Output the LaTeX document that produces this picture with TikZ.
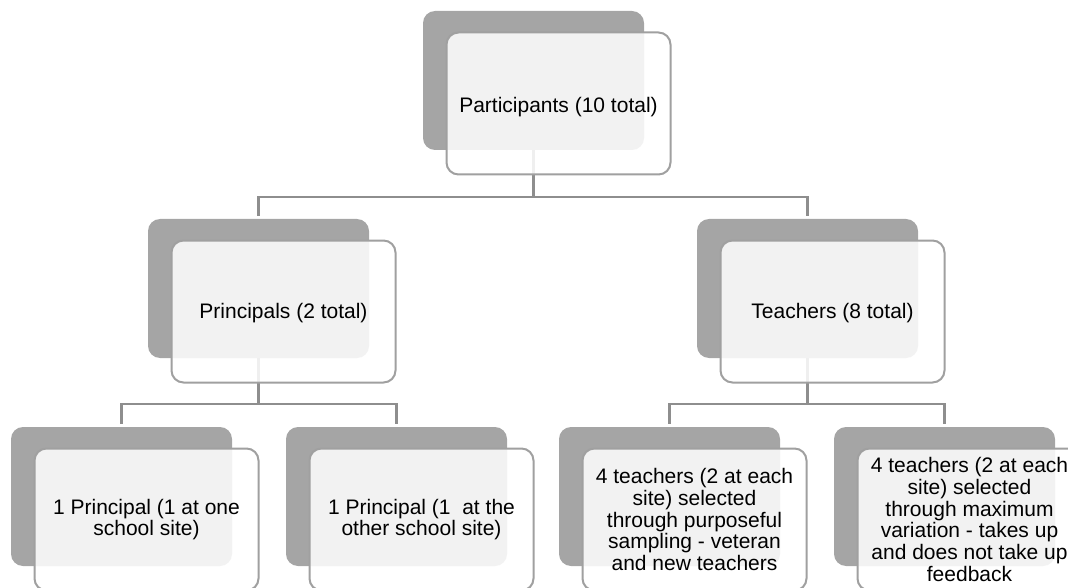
\documentclass[tikz,border=0pt]{standalone}
\usepackage{fontspec}
\setmainfont{Liberation Sans}
\usetikzlibrary{calc}
\definecolor{shade}{HTML}{A5A5A5}
\definecolor{rim}{HTML}{A0A0A0}
\definecolor{wire}{HTML}{8E8E8E}
\tikzset{
  back/.style={fill=shade,rounded corners=12pt,minimum width=221pt,minimum height=139pt,inner sep=0pt},
  front/.style={draw=rim,line width=2pt,fill=white,fill opacity=.86,text opacity=1,rounded corners=12pt,
    minimum width=224pt,minimum height=142pt,inner sep=0pt,align=center,font=\fontsize{21}{21.7}\selectfont},
  link/.style={wire,line width=2.4pt,shorten >=3pt}
}
\begin{document}
\begin{tikzpicture}[x=1pt,y=-1pt]
\useasboundingbox (0,0) rectangle (1068,588);
\clip (0,0) rectangle (1068,588);
% grey backing cards
\foreach \n/\x/\y in {root/533.5/80.5,prin/258.5/288.5,teach/807.5/288.5,pa/121.5/496.5,pb/396.5/496.5,ta/669.5/496.5,tb/944.5/496.5}{\node[back] (\n b) at (\x,\y){};}
% connectors
\coordinate (j1) at (533.5,197);
\coordinate (j2) at (258.5,404);
\coordinate (j3) at (807.5,404);
\draw[link,shorten >=0pt] (rootb.south) -- (j1);
\draw[link] (j1) -| (prinb.north);
\draw[link] (j1) -| (teachb.north);
\draw[link,shorten >=0pt] (prinb.south) -- (j2);
\draw[link] (j2) -| (pab.north);
\draw[link] (j2) -| (pbb.north);
\draw[link,shorten >=0pt] (teachb.south) -- (j3);
\draw[link] (j3) -| (tab.north);
\draw[link] (j3) -| (tbb.north);
% front cards
\node[front,text height=24pt,text depth=5pt] (root) at ($(rootb)+(25,23)$) {Participants (10 total)};
\node[front,text height=18pt,text depth=5pt] (prin) at ($(prinb)+(25,23)$) {Principals (2 total)};
\node[front,text height=18pt,text depth=5pt] (teach) at ($(teachb)+(25,23)$) {Teachers (8 total)};
\node[front] (pa) at ($(pab)+(25,23)$) {1 Principal (1 at one\\school site)};
\node[front] (pb) at ($(pbb)+(25,23)$) {1 Principal (1~ at the\\other school site)};
\node[front] (ta) at ($(tab)+(25,23)$) {4 teachers (2 at each\\site) selected\\through purposeful\\sampling - veteran\\and new teachers};
\node[front] (tb) at ($(tbb)+(25,23)$) {4 teachers (2 at each\\site) selected\\through maximum\\variation - takes up\\and does not take up\\feedback};
\end{tikzpicture}
\end{document}
